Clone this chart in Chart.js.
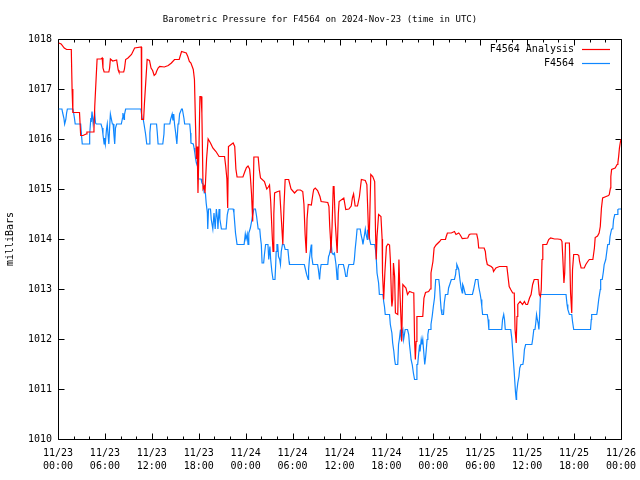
<!DOCTYPE html>
<html>
<head>
<meta charset="utf-8">
<title>Barometric Pressure F4564</title>
<script src="https://cdn.jsdelivr.net/npm/chart.js@4.4.1/dist/chart.umd.min.js"></script>
<style>
  html, body { margin: 0; padding: 0; background: #ffffff; }
  #wrap { width: 640px; height: 480px; }
</style>
</head>
<body>
<div id="wrap"><canvas id="pressureChart" width="640" height="480"></canvas></div>
<script>
// ========================================
// Data (hours since 11/23 00:00 UTC, millibars)
// ========================================

const chartTitle = 'Barometric Pressure for F4564 on 2024-Nov-23 (time in UTC)';
const seriesNames = ['F4564 Analysis', 'F4564'];

const xTickHours = [0, 6, 12, 18, 24, 30, 36, 42, 48, 54, 60, 66, 72];
const xTickLabels = [
    ['11/23', '00:00'], ['11/23', '06:00'], ['11/23', '12:00'], ['11/23', '18:00'],
    ['11/24', '00:00'], ['11/24', '06:00'], ['11/24', '12:00'], ['11/24', '18:00'],
    ['11/25', '00:00'], ['11/25', '06:00'], ['11/25', '12:00'], ['11/25', '18:00'],
    ['11/26', '00:00']
];
const yTickValues = [1010, 1011, 1012, 1013, 1014, 1015, 1016, 1017, 1018];

// F4564 Analysis (red)
const analysisHours = [
    0.1, 0.4, 0.8, 1.1, 1.7, 1.8, 1.9, 2.75, 2.9, 3.2,
    3.6, 3.7, 4.5, 4.6, 4.7, 4.9, 5.0, 5.5, 5.65, 5.75,
    5.9, 6.5, 6.6, 6.7, 7.0, 7.5, 7.7, 7.8, 8.4, 8.5,
    8.65, 8.95, 9.4, 9.8, 10.65, 10.7, 10.95, 11.05, 11.4, 11.7,
    11.9, 12.1, 12.3, 12.5, 12.6, 12.8, 13.0, 13.6, 14.1, 14.5,
    14.9, 15.5, 15.8, 16.4, 16.6, 16.8, 17.0, 17.3, 17.45, 17.55,
    17.7, 17.8, 17.9, 18.0, 18.15, 18.3, 18.4, 18.55, 18.7, 18.8,
    19.0, 19.2, 19.5, 19.8, 20.2, 20.6, 21.3, 21.45, 21.6, 21.7,
    21.8, 22.4, 22.6, 22.75, 22.9, 23.65, 23.9, 24.1, 24.3, 24.5,
    24.6, 24.75, 24.9, 25.05, 25.6, 25.75, 25.9, 26.4, 26.7, 26.9,
    27.05, 27.2, 27.4, 27.5, 27.6, 27.7, 28.1, 28.35, 28.6, 28.75,
    28.9, 29.05, 29.5, 29.8, 30.25, 30.6, 31.0, 31.3, 31.45, 31.6,
    31.75, 31.85, 32.0, 32.4, 32.6, 32.7, 32.9, 33.2, 33.5, 33.65,
    34.5, 34.65, 34.75, 34.85, 34.9, 35.05, 35.2, 35.3, 35.45, 35.7,
    35.85, 35.95, 36.55, 36.8, 37.2, 37.5, 37.65, 37.8, 38.0, 38.3,
    38.55, 38.7, 38.8, 39.3, 39.5, 39.6, 39.7, 39.8, 40.0, 40.25,
    40.5, 40.6, 40.7, 40.8, 41.0, 41.3, 41.45, 41.5, 41.65, 41.8,
    42.0, 42.2, 42.4, 42.5, 42.65, 42.7, 42.8, 42.9, 43.05, 43.15,
    43.45, 43.6, 43.7, 43.8, 43.9, 43.95, 44.1, 44.5, 44.7, 44.95,
    45.3, 45.5, 45.6, 45.7, 45.8, 45.9, 46.65, 46.8, 47.0, 47.4,
    47.6, 47.7, 47.95, 48.1, 48.35, 48.8, 49.0, 49.55, 49.65, 49.8,
    50.3, 50.7, 50.9, 51.25, 51.4, 51.55, 51.7, 52.4, 52.6, 52.8,
    53.55, 53.7, 53.8, 54.5, 54.65, 54.75, 54.9, 55.4, 55.6, 55.7,
    56.0, 56.45, 57.4, 57.5, 57.7, 57.9, 58.15, 58.35, 58.45, 58.6,
    58.7, 58.8, 59.1, 59.4, 59.65, 59.85, 60.05, 60.3, 60.5, 60.7,
    60.9, 61.4, 61.55, 61.7, 61.8, 61.9, 62.0, 62.5, 62.75, 63.0,
    63.5, 63.9, 64.3, 64.45, 64.55, 64.7, 64.8, 64.9, 65.4, 65.55,
    65.7, 65.8, 65.95, 66.45, 66.6, 66.7, 66.9, 67.3, 67.5, 67.75,
    67.95, 68.4, 68.6, 68.7, 69.0, 69.2, 69.35, 69.5, 69.65, 70.1,
    70.4, 70.5, 70.65, 70.7, 70.8, 71.25, 71.5, 71.6, 71.7, 71.8,
    71.9, 72.0
];
const analysisValues = [
    1017.92, 1017.9, 1017.82, 1017.79, 1017.79, 1017.0, 1016.53, 1016.53, 1016.07, 1016.07,
    1016.1, 1016.14, 1016.14, 1016.2, 1016.65, 1017.29, 1017.6, 1017.6, 1017.62, 1017.42,
    1017.34, 1017.34, 1017.42, 1017.6, 1017.56, 1017.58, 1017.38, 1017.34, 1017.34, 1017.4,
    1017.59, 1017.62, 1017.69, 1017.82, 1017.84, 1016.39, 1016.39, 1016.7, 1017.59, 1017.57,
    1017.42, 1017.37, 1017.27, 1017.3, 1017.35, 1017.42, 1017.45, 1017.44, 1017.47, 1017.52,
    1017.59, 1017.59, 1017.75, 1017.72, 1017.65, 1017.55, 1017.52, 1017.39, 1017.19, 1016.52,
    1015.6, 1015.85, 1014.92, 1015.6, 1016.85, 1016.85, 1016.52, 1015.0, 1015.05, 1014.92,
    1015.6, 1016.0, 1015.92, 1015.82, 1015.75, 1015.65, 1015.65, 1015.45, 1015.2, 1014.62,
    1015.85, 1015.92, 1015.85, 1015.4, 1015.24, 1015.24, 1015.35, 1015.43, 1015.46, 1015.4,
    1015.25, 1014.9, 1014.35, 1015.64, 1015.64, 1015.38, 1015.22, 1015.15, 1015.0, 1015.04,
    1015.08, 1014.75, 1014.05, 1013.75, 1014.5, 1014.92, 1014.95, 1014.96, 1014.3, 1013.89,
    1014.65, 1015.19, 1015.19, 1015.0, 1014.92, 1014.98, 1014.98, 1014.95, 1014.7, 1014.1,
    1013.72, 1014.4, 1014.69, 1014.68, 1014.9, 1014.99, 1015.02, 1014.97, 1014.85, 1014.75,
    1014.73, 1014.65, 1014.25, 1013.99, 1013.72, 1014.25, 1015.05, 1015.05, 1014.35, 1013.72,
    1014.5, 1014.75, 1014.82, 1014.59, 1014.6, 1014.66, 1014.82, 1014.9, 1014.66, 1014.66,
    1014.85, 1015.06, 1015.19, 1015.17, 1015.09, 1014.65, 1014.19, 1013.99, 1015.29, 1015.25,
    1015.15, 1014.19, 1013.59, 1014.05, 1014.49, 1014.45, 1014.0, 1013.32, 1012.79, 1013.32,
    1013.85, 1013.9, 1013.88, 1013.59, 1012.79, 1012.65, 1012.79, 1013.52, 1013.25, 1012.52,
    1012.49, 1013.59, 1013.05, 1012.65, 1012.25, 1011.95, 1013.09, 1013.02, 1012.89, 1012.95,
    1012.93, 1012.92, 1011.99, 1011.59, 1011.95, 1012.45, 1012.45, 1012.82, 1012.93, 1012.95,
    1013.0, 1013.32, 1013.55, 1013.82, 1013.88, 1013.95, 1013.99, 1013.99, 1014.05, 1014.12,
    1014.12, 1014.15, 1014.09, 1014.12, 1014.09, 1014.05, 1014.01, 1014.02, 1014.09, 1014.1,
    1014.1, 1013.99, 1013.82, 1013.82, 1013.75, 1013.6, 1013.49, 1013.45, 1013.42, 1013.35,
    1013.42, 1013.45, 1013.45, 1013.32, 1013.05, 1012.99, 1012.92, 1012.92, 1012.19, 1011.92,
    1012.45, 1012.69, 1012.75, 1012.69, 1012.75, 1012.69, 1012.69, 1012.82, 1012.89, 1013.09,
    1013.19, 1013.19, 1012.89, 1012.85, 1012.99, 1013.59, 1013.89, 1013.89, 1013.99, 1014.02,
    1014.0, 1014.0, 1013.99, 1013.95, 1013.65, 1013.12, 1013.32, 1013.92, 1013.92, 1012.92,
    1012.52, 1013.39, 1013.69, 1013.69, 1013.67, 1013.55, 1013.42, 1013.42, 1013.49, 1013.55,
    1013.59, 1013.59, 1013.82, 1014.03, 1014.06, 1014.12, 1014.25, 1014.62, 1014.82, 1014.85,
    1014.87, 1014.89, 1015.02, 1015.25, 1015.39, 1015.42, 1015.49, 1015.52, 1015.65, 1015.82,
    1015.92, 1016.0
];

// F4564 station (blue)
const stationHours = [
    0.1, 0.5, 0.6, 0.75, 0.85, 1.0, 1.1, 1.2, 1.9, 2.0,
    2.1, 2.2, 2.9, 3.0, 3.1, 4.0, 4.05, 4.2, 4.25, 4.35,
    4.5, 4.6, 4.7, 4.8, 4.9, 5.5, 5.65, 5.75, 5.9, 5.95,
    6.05, 6.2, 6.3, 6.4, 6.5, 6.6, 6.7, 6.8, 6.95, 7.05,
    7.15, 7.25, 7.35, 7.5, 8.1, 8.25, 8.3, 8.45, 8.5, 8.65,
    10.6, 10.75, 10.9, 11.0, 11.1, 11.2, 11.35, 11.65, 11.75, 11.85,
    12.6, 12.7, 12.8, 13.4, 13.55, 13.6, 14.3, 14.4, 14.6, 14.7,
    14.8, 14.9, 15.05, 15.2, 15.35, 15.45, 15.55, 15.8, 15.9, 16.1,
    16.2, 16.85, 16.95, 17.0, 17.3, 17.4, 17.5, 17.6, 17.7, 17.85,
    17.9, 18.3, 18.4, 18.55, 18.7, 18.85, 18.95, 19.1, 19.15, 19.25,
    19.5, 19.6, 19.8, 19.95, 20.1, 20.25, 20.4, 20.45, 20.6, 20.7,
    20.9, 21.5, 21.65, 21.8, 22.4, 22.5, 22.6, 22.7, 22.9, 23.8,
    23.95, 24.05, 24.2, 24.3, 24.4, 24.6, 24.8, 24.9, 25.05, 25.25,
    25.4, 25.6, 25.8, 25.9, 26.0, 26.1, 26.3, 26.4, 26.55, 26.85,
    26.95, 27.1, 27.2, 27.35, 27.5, 27.75, 27.85, 27.9, 28.0, 28.1,
    28.2, 28.35, 28.45, 28.55, 28.7, 28.9, 29.05, 29.4, 29.55, 29.6,
    31.5, 31.65, 31.8, 32.0, 32.05, 32.15, 32.3, 32.4, 32.45, 32.6,
    33.2, 33.3, 33.45, 33.55, 33.65, 34.5, 34.6, 34.7, 34.85, 34.95,
    35.05, 35.2, 35.35, 35.55, 35.7, 35.8, 35.9, 36.5, 36.65, 36.8,
    36.95, 37.05, 37.2, 37.8, 37.9, 38.0, 38.15, 38.25, 38.65, 38.75,
    38.9, 39.0, 39.1, 39.2, 39.3, 39.4, 39.55, 39.6, 39.75, 39.85,
    40.0, 40.5, 40.6, 40.7, 40.8, 41.0, 41.1, 41.55, 41.65, 41.75,
    41.85, 42.4, 42.5, 42.7, 42.8, 42.95, 43.05, 43.15, 43.45, 43.55,
    43.65, 43.8, 43.9, 43.95, 44.1, 44.2, 44.3, 44.4, 44.7, 44.85,
    44.95, 45.05, 45.15, 45.3, 45.45, 45.6, 45.8, 45.9, 46.0, 46.15,
    46.25, 46.3, 46.45, 46.55, 46.65, 46.75, 46.9, 47.0, 47.1, 47.2,
    47.3, 47.4, 47.6, 47.7, 47.85, 48.0, 48.15, 48.3, 48.7, 48.8,
    48.9, 49.0, 49.1, 49.3, 49.4, 49.55, 49.85, 49.95, 50.1, 50.3,
    50.7, 50.85, 50.9, 51.0, 51.25, 51.4, 51.55, 51.7, 51.75, 51.85,
    52.0, 52.1, 53.0, 53.15, 53.4, 53.7, 53.8, 54.0, 54.1, 54.2,
    54.3, 54.9, 55.0, 55.1, 56.75, 56.85, 57.0, 57.1, 57.2, 57.9,
    58.05, 58.2, 58.35, 58.5, 58.6, 58.65, 58.8, 58.95, 59.05, 59.2,
    59.45, 59.55, 59.65, 59.8, 60.6, 60.7, 60.85, 61.0, 61.1, 61.2,
    61.3, 61.4, 61.5, 61.6, 61.7, 64.97, 65.1, 65.2, 65.4, 65.7,
    65.8, 65.95, 68.1, 68.2, 68.25, 68.9, 69.0, 69.15, 69.35, 69.4,
    69.6, 69.75, 69.85, 70.05, 70.3, 70.5, 70.6, 70.8, 70.95, 71.05,
    71.2, 71.5, 71.6, 71.7, 72.0
];
const stationValues = [
    1016.6, 1016.6, 1016.52, 1016.42, 1016.3, 1016.39, 1016.52, 1016.6, 1016.6, 1016.52,
    1016.42, 1016.3, 1016.3, 1016.09, 1015.9, 1015.9, 1016.09, 1016.42, 1016.34, 1016.55,
    1016.3, 1016.3, 1016.5, 1016.32, 1016.3, 1016.3, 1016.22, 1016.09, 1015.9, 1016.02,
    1015.9, 1016.19, 1016.3, 1016.09, 1015.9, 1016.22, 1016.5, 1016.42, 1016.3, 1016.3,
    1016.09, 1015.9, 1016.22, 1016.3, 1016.3, 1016.42, 1016.52, 1016.39, 1016.49, 1016.6,
    1016.6, 1016.42, 1016.39, 1016.3, 1016.3, 1016.1, 1015.9, 1015.9, 1016.12, 1016.3,
    1016.3, 1016.12, 1015.9, 1015.9, 1016.1, 1016.3, 1016.3, 1016.39, 1016.5, 1016.37,
    1016.5, 1016.3, 1016.12, 1015.9, 1016.3, 1016.32, 1016.5, 1016.6, 1016.6, 1016.42,
    1016.3, 1016.3, 1016.12, 1015.92, 1015.9, 1015.82, 1015.72, 1015.6, 1015.52, 1015.45,
    1015.2, 1015.2, 1015.12, 1015.1, 1014.92, 1014.92, 1014.72, 1014.52, 1014.2, 1014.6,
    1014.6, 1014.39, 1014.2, 1014.52, 1014.2, 1014.6, 1014.39, 1014.2, 1014.6, 1014.4,
    1014.2, 1014.2, 1014.49, 1014.6, 1014.6, 1014.52, 1014.32, 1014.12, 1013.89, 1013.89,
    1014.1, 1014.0, 1014.1, 1013.89, 1014.12, 1014.22, 1014.39, 1014.49, 1014.6, 1014.6,
    1014.45, 1014.2, 1014.2, 1014.02, 1013.89, 1013.52, 1013.52, 1013.69, 1013.89, 1013.89,
    1013.59, 1013.85, 1013.59, 1013.35, 1013.19, 1013.19, 1013.52, 1013.75, 1013.89, 1013.89,
    1013.65, 1013.59, 1013.49, 1013.75, 1013.89, 1013.89, 1013.79, 1013.79, 1013.55, 1013.49,
    1013.49, 1013.39, 1013.29, 1013.19, 1013.39, 1013.59, 1013.79, 1013.89, 1013.65, 1013.49,
    1013.49, 1013.39, 1013.19, 1013.39, 1013.49, 1013.49, 1013.65, 1013.69, 1013.79, 1013.89,
    1013.72, 1013.69, 1013.72, 1013.49, 1013.19, 1013.39, 1013.49, 1013.49, 1013.39, 1013.25,
    1013.25, 1013.39, 1013.49, 1013.49, 1013.59, 1013.79, 1014.02, 1014.2, 1014.2, 1014.09,
    1013.99, 1013.89, 1013.99, 1014.09, 1014.2, 1014.09, 1013.99, 1014.17, 1014.2, 1013.99,
    1013.89, 1013.89, 1013.79, 1013.62, 1013.32, 1013.12, 1012.89, 1012.89, 1012.75, 1012.65,
    1012.49, 1012.49, 1012.29, 1012.12, 1011.92, 1011.75, 1011.59, 1011.49, 1011.49, 1011.89,
    1011.99, 1012.19, 1011.99, 1012.12, 1012.19, 1011.99, 1012.09, 1012.19, 1012.19, 1012.09,
    1011.89, 1011.75, 1011.59, 1011.49, 1011.32, 1011.19, 1011.19, 1011.49, 1011.49, 1011.75,
    1011.89, 1011.75, 1011.99, 1011.89, 1011.99, 1011.79, 1011.49, 1011.62, 1011.79, 1011.99,
    1012.09, 1012.19, 1012.19, 1012.29, 1012.45, 1012.65, 1012.82, 1013.19, 1013.19, 1013.05,
    1012.79, 1012.59, 1012.49, 1012.49, 1012.72, 1012.89, 1012.89, 1013.02, 1013.09, 1013.19,
    1013.19, 1013.29, 1013.39, 1013.49, 1013.39, 1013.19, 1013.02, 1012.92, 1013.09, 1013.05,
    1012.95, 1012.89, 1012.89, 1012.99, 1013.19, 1013.19, 1013.05, 1012.89, 1012.79, 1012.65,
    1012.49, 1012.49, 1012.39, 1012.19, 1012.19, 1012.39, 1012.49, 1012.39, 1012.19, 1012.19,
    1011.99, 1011.65, 1011.32, 1010.95, 1010.79, 1010.92, 1011.12, 1011.25, 1011.42, 1011.49,
    1011.49, 1011.59, 1011.79, 1011.89, 1011.89, 1011.99, 1012.19, 1012.19, 1012.32, 1012.49,
    1012.39, 1012.32, 1012.19, 1012.49, 1012.89, 1012.89, 1012.69, 1012.59, 1012.49, 1012.49,
    1012.35, 1012.19, 1012.19, 1012.39, 1012.49, 1012.49, 1012.59, 1012.79, 1012.99, 1013.19,
    1013.19, 1013.35, 1013.49, 1013.59, 1013.89, 1013.89, 1014.05, 1014.2, 1014.2, 1014.39,
    1014.49, 1014.49, 1014.59, 1014.6, 1014.6
];

// ========================================
// Chart setup
// ========================================

const MONO = "'DejaVu Sans Mono', monospace";
const RED = '#ff0000';
const BLUE = '#0f87ff';

function toPoints(hours, values) {
    return hours.map((h, i) => ({ x: h, y: values[i] }));
}

// Gnuplot style frame: full border with inward ticks, legend at top right
const frameTicks = {
    id: 'frameTicks',
    beforeDatasetsDraw(chart) {
        const { ctx, chartArea: a, scales: { x, y } } = chart;
        ctx.save();
        ctx.strokeStyle = '#000';
        ctx.lineWidth = 1;
        ctx.beginPath();
        const L = Math.round(a.left) + 0.5, R = Math.round(a.right) + 0.5;
        const T = Math.round(a.top) + 0.5, B = Math.round(a.bottom) + 0.5;
        ctx.rect(L, T, R - L, B - T);
        // x ticks every 2 hours, long ones at labelled hours
        for (let h = x.min; h <= x.max; h += 2) {
            const px = Math.round(x.getPixelForValue(h)) + 0.5;
            const len = xTickHours.includes(h) ? 6 : 3;
            ctx.moveTo(px, B); ctx.lineTo(px, B - len);
            ctx.moveTo(px, T); ctx.lineTo(px, T + len);
        }
        yTickValues.forEach(v => {
            const py = Math.round(y.getPixelForValue(v)) + 0.5;
            ctx.moveTo(L, py); ctx.lineTo(L + 6, py);
            ctx.moveTo(R, py); ctx.lineTo(R - 6, py);
        });
        ctx.stroke();
        ctx.restore();
    },
    afterDraw(chart) {
        const { ctx } = chart;
        ctx.save();
        ctx.font = '10px ' + MONO;
        ctx.textAlign = 'right';
        ctx.textBaseline = 'middle';
        chart.data.datasets.forEach((ds, i) => {
            const yy = 49 + i * 14;
            ctx.fillStyle = '#000';
            ctx.fillText(ds.label, 574, yy);
            ctx.strokeStyle = ds.borderColor;
            ctx.lineWidth = 1.2;
            ctx.beginPath();
            ctx.moveTo(582, yy + 0.5);
            ctx.lineTo(610, yy + 0.5);
            ctx.stroke();
        });
        ctx.restore();
    }
};

const ctx = document.getElementById('pressureChart').getContext('2d');
const chart = new Chart(ctx, {
    type: 'line',
    data: {
        datasets: [{
            label: seriesNames[0],
            data: toPoints(analysisHours, analysisValues),
            borderColor: RED,
            borderWidth: 1.2,
            pointRadius: 0,
            tension: 0,
            fill: false
        }, {
            label: seriesNames[1],
            data: toPoints(stationHours, stationValues),
            borderColor: BLUE,
            borderWidth: 1.2,
            pointRadius: 0,
            tension: 0,
            fill: false
        }]
    },
    options: {
        responsive: false,
        animation: false,
        layout: { padding: 0 },
        plugins: {
            legend: { display: false },
            tooltip: { enabled: false },
            title: {
                display: true,
                text: chartTitle,
                color: '#000',
                font: { family: MONO, size: 9, weight: 'normal', lineHeight: '11px' },
                padding: { top: 14, bottom: 14 }
            }
        },
        scales: {
            x: {
                type: 'linear',
                min: 0,
                max: 72,
                afterBuildTicks: scale => { scale.ticks = xTickHours.map(v => ({ value: v })); },
                afterFit: scale => {
                    scale.height = 41;
                    scale.paddingLeft = 0;
                    scale.paddingRight = 19;
                },
                ticks: {
                    autoSkip: false,
                    maxRotation: 0,
                    padding: 8,
                    color: '#000',
                    font: { family: MONO, size: 10, lineHeight: 1.3 },
                    callback: value => xTickLabels[xTickHours.indexOf(value)]
                },
                grid: { display: false, drawTicks: false },
                border: { display: false }
            },
            y: {
                min: 1010,
                max: 1018,
                afterBuildTicks: scale => { scale.ticks = yTickValues.map(v => ({ value: v })); },
                afterFit: scale => { scale.width = 58; },
                ticks: {
                    padding: 6,
                    color: '#000',
                    font: { family: MONO, size: 10 },
                    callback: value => String(value)
                },
                title: {
                    display: true,
                    text: 'milliBars',
                    color: '#000',
                    font: { family: MONO, size: 10, lineHeight: 1.2 },
                    padding: { top: 4, bottom: 4 }
                },
                grid: { display: false, drawTicks: false },
                border: { display: false }
            }
        }
    },
    plugins: [frameTicks]
});
</script>
</body>
</html>
